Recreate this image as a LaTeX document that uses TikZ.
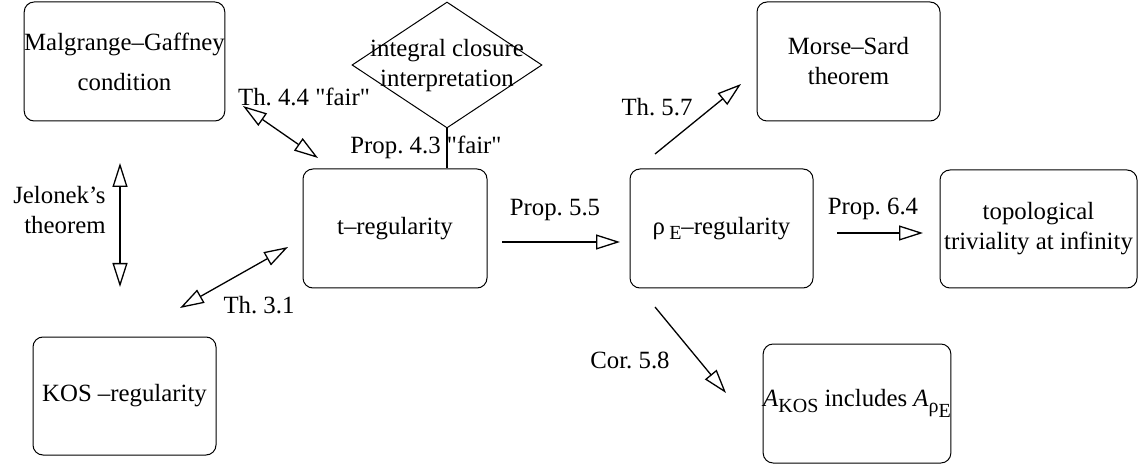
\documentclass[tikz,border=0pt]{standalone}
\usepackage{fontspec}
\setmainfont{Liberation Serif}
\newfontfamily\qf{Liberation Serif}
\usetikzlibrary{arrows.meta,shapes.geometric}
\newcommand{\subsz}{\fontsize{10}{10}\selectfont}
\newcommand{\sq}{{\qf "}}
\frenchspacing
\begin{document}
\begin{tikzpicture}[x=0.5pt,y=-0.5pt,
  every node/.style={font=\fontsize{12.4}{15}\selectfont, inner sep=0pt},
  box/.style={draw, line width=0.5pt, rounded corners=5pt, align=center},
  lbl/.style={align=center},
  conn/.style={line width=0.65pt},
  head/.style={-{Triangle[open,length=12pt,width=7.5pt]}},
  dhead/.style={{Triangle[open,length=12pt,width=7.5pt]}-{Triangle[open,length=12pt,width=7.5pt]}}
]
\useasboundingbox (0,0) rectangle (1138,464);

% boxes
\node[box, minimum width=99.5pt, minimum height=59.5pt, font=\fontsize{12.4}{20}\selectfont] (mg) at (124.5,61.5) {Malgrange--Gaffney\\condition};
\node[box, minimum width=91.5pt, minimum height=59.5pt] (ms) at (848.5,61.5) {Morse--Sard\\theorem};
\node[box, minimum width=92pt, minimum height=59.5pt] (t) at (395,228.5) {t--regularity};
\node[box, minimum width=91.5pt, minimum height=59.5pt] (rho) at (721.5,228.5) {ρ\,\raisebox{-0.5ex}{\subsz E}--regularity};
\node[box, minimum width=98.5pt, minimum height=59pt] (top) at (1038.5,229) {topological\\triviality at infinity};
\node[box, minimum width=91.5pt, minimum height=59pt] (kos) at (124.5,396) {KOS --regularity};
\node[box, minimum width=91pt, minimum height=59.5pt] (a) at (857,403.5) {\textit{A}\raisebox{-0.5ex}{\subsz KOS} includes \textit{A}\raisebox{-0.5ex}{\subsz ρ\raisebox{-0.5ex}{E}}};

% diamond
\node[draw, line width=0.5pt, shape=diamond, minimum width=95pt, minimum height=63pt] (ic) at (447,65) {};
\node[lbl] (ictext) at (447,66) {integral closure\\interpretation};

% free ends of connectors
\coordinate (j1) at (120,163);
\coordinate (j2) at (120,287);
\coordinate (a1) at (180,308);
\coordinate (a2) at (288,247);
\coordinate (b1) at (243,106);
\coordinate (b2) at (318,158);
\coordinate (c1) at (502,242);
\coordinate (c2) at (620,242);
\coordinate (d1) at (837,233);
\coordinate (d2) at (923,233);
\coordinate (e1) at (655,154);
\coordinate (e2) at (741,84);
\coordinate (f1) at (655,307);
\coordinate (f2) at (726,393);

% connectors
\draw[conn] (ic.south) -- (ic.south |- t.north);
\draw[conn,dhead] (j1) -- (j2);
\draw[conn,dhead] (a1) -- (a2);
\draw[conn,dhead] (b1) -- (b2);
\draw[conn,head] (c1) -- (c2);
\draw[conn,head] (d1) -- (d2);
\draw[conn,head] (e1) -- (e2);
\draw[conn,head] (f1) -- (f2);

% labels
\node[lbl] (l44) at (304,97) {Th. 4.4 \sq fair\sq};
\node[lbl] (l43) at (426,147) {Prop. 4.3 \sq fair\sq};
\node[lbl, align=right, anchor=east] (ljel) at (106,210) {Jelonek’s\\theorem};
\node[lbl] (l31) at (259,305) {Th. 3.1};
\node[lbl] (l55) at (555,210) {Prop. 5.5};
\node[lbl] (l64) at (873,209) {Prop. 6.4};
\node[lbl] (l57) at (657,107) {Th. 5.7};
\node[lbl] (l58) at (630,360) {Cor. 5.8};
\end{tikzpicture}
\end{document}
